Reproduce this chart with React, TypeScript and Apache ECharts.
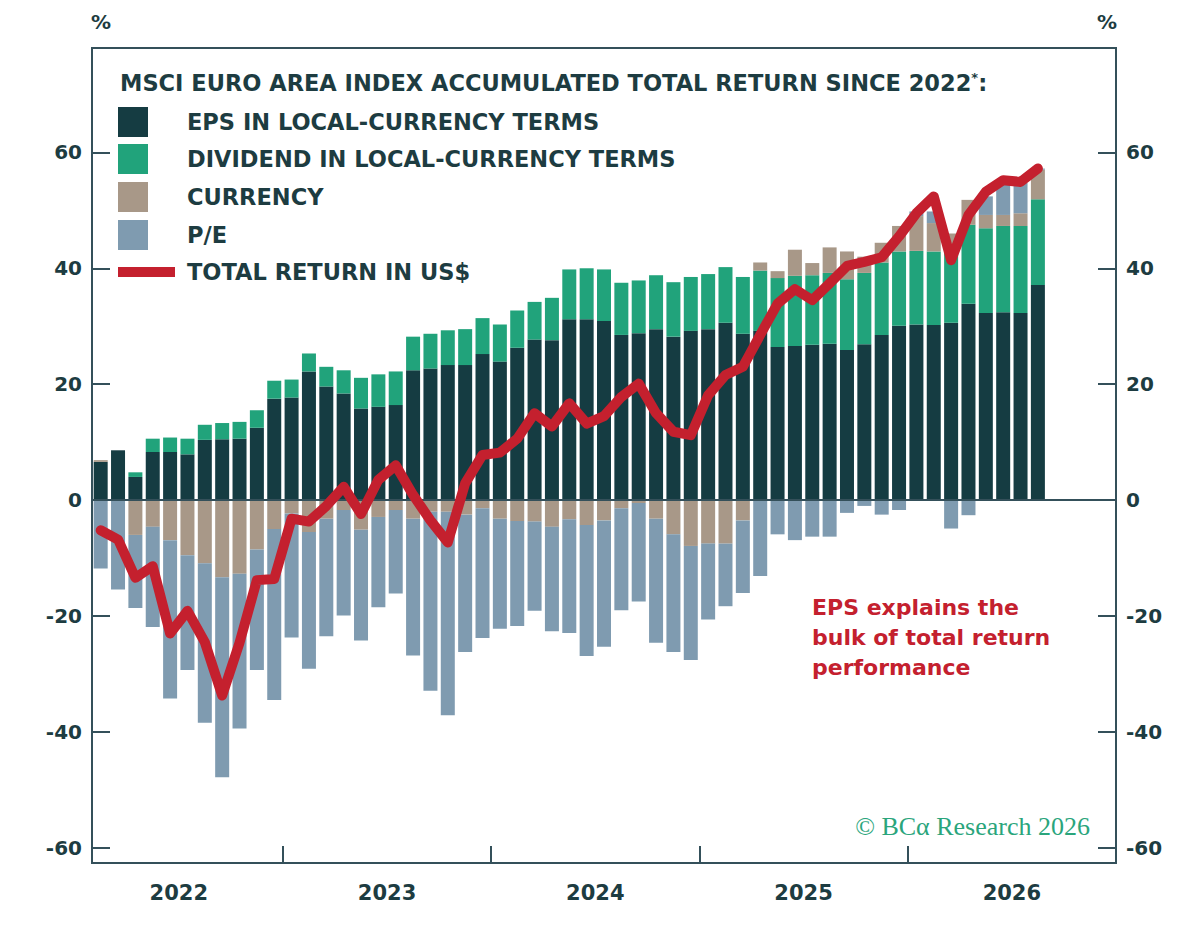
import React, { useEffect, useRef } from "react";
import * as echarts from "echarts";

// ---------- data ----------
const MONTH_NAMES = ["Jan", "Feb", "Mar", "Apr", "May", "Jun", "Jul", "Aug", "Sep", "Oct", "Nov", "Dec"];
const YEARS = [2022, 2023, 2024, 2025, 2026];
// monthly categories from Feb 2022 to Dec 2026
const CATEGORIES: string[] = [];
YEARS.forEach((y) => {
  MONTH_NAMES.forEach((m, i) => {
    if (y === 2022 && i === 0) return;
    CATEGORIES.push(`${m} ${y}`);
  });
});

const EPS = [
  6.6, 8.6, 4.0, 8.3, 8.3, 7.9, 10.4, 10.5, 10.6, 12.5, 17.5, 17.7, 22.2, 19.6, 18.4, 15.8, 16.1, 16.4, 22.4,
  22.7, 23.3, 23.3, 25.2, 23.9, 26.3, 27.7, 27.6, 31.2, 31.2, 30.9, 28.5, 28.8, 29.5, 28.2, 29.2, 29.5, 30.6, 28.7,
  29.2, 26.4, 26.6, 26.8, 27.0, 25.9, 26.9, 28.5, 30.1, 30.3, 30.2, 30.6, 33.9, 32.3, 32.4, 32.3, 37.1,
];
const DIVIDEND = [
  0, 0, 0.8, 2.3, 2.5, 2.7, 2.6, 2.8, 2.9, 3.0, 3.1, 3.1, 3.1, 3.4, 4.0, 5.3, 5.6, 5.8, 5.8,
  6.0, 6.0, 6.2, 6.2, 6.4, 6.4, 6.5, 7.3, 8.6, 8.8, 8.9, 9.0, 9.1, 9.3, 9.4, 9.3, 9.5, 9.6, 9.8,
  10.4, 11.9, 12.1, 12.0, 12.2, 12.2, 12.3, 12.5, 12.8, 12.7, 12.7, 12.4, 13.6, 14.6, 14.9, 15.0, 14.8,
];
const CURRENCY = [
  0.3, 0, -6.0, -4.6, -6.9, -9.5, -10.9, -13.3, -12.7, -8.5, -5.0, -2.3, -5.5, -3.2, -1.7, -5.1, -2.9, -1.7, -3.2,
  -2.0, -2.0, -2.5, -1.4, -3.2, -3.6, -3.7, -4.6, -3.3, -4.3, -3.5, -1.4, -0.5, -3.2, -5.9, -7.9, -7.5, -7.5, -3.5,
  1.4, 1.2, 4.5, 2.1, 4.4, 4.8, 2.8, 3.4, 4.4, 6.0, 4.9, 3.0, 4.3, 2.3, 1.9, 2.2, 5.1,
];
const PE = [
  -11.8, -15.4, -12.6, -17.3, -27.3, -19.8, -27.5, -34.5, -26.7, -20.8, -29.5, -21.4, -23.6, -20.3, -18.2, -19.1, -15.6, -14.4, -23.6,
  -30.9, -35.1, -23.7, -22.4, -19.0, -18.1, -15.4, -18.0, -19.6, -22.6, -21.8, -17.6, -17.0, -21.4, -20.3, -19.7, -13.1, -10.8, -12.5,
  -13.1, -5.9, -6.9, -6.3, -6.3, -2.2, -1.0, -2.5, -1.7, 0.8, 2.0, -4.9, -2.6, 3.2, 5.5, 5.2, 0.2,
];
const TOTAL_RETURN = [
  -5.2, -6.8, -13.4, -11.4, -23.0, -19.1, -24.5, -33.7, -24.6, -13.8, -13.6, -3.2, -3.7, -1.0, 2.3, -2.4, 3.5, 6.0, 0.9,
  -3.5, -7.3, 2.9, 7.8, 8.2, 10.6, 15.0, 12.7, 16.7, 13.2, 14.5, 17.8, 20.1, 15.0, 11.8, 11.2, 18.1, 21.6, 23.0,
  28.5, 33.9, 36.4, 34.5, 37.4, 40.4, 41.1, 41.9, 45.5, 49.5, 52.4, 41.4, 49.2, 53.2, 55.2, 54.9, 57.2,
];

const Y_TICKS = [-60, -40, -20, 0, 20, 40, 60];
const Y_MIN = -62.6;
const Y_MAX = 78;
const YEAR_TICKS = [2023, 2024, 2025, 2026];
const YEAR_AXIS_MIN = 2022 + 1 / 12;
const YEAR_AXIS_MAX = 2027;

const TITLE = "MSCI EURO AREA INDEX ACCUMULATED TOTAL RETURN SINCE 2022{s|*}:";
const LEGEND_NAMES = [
  "EPS IN LOCAL-CURRENCY TERMS",
  "DIVIDEND IN LOCAL-CURRENCY TERMS",
  "CURRENCY",
  "P/E",
  "TOTAL RETURN IN US$",
];
const NOTE = "EPS explains the\nbulk of total return\nperformance";
const CREDIT = "© BCα Research 2026";

// ---------- styles ----------
const C_EPS = "#153c42";
const C_DIV = "#21a37b";
const C_CUR = "#a89888";
const C_PE = "#7f9bb0";
const C_RED = "#c4202e";
const C_TEXT = "#1d3c41";
const C_FRAME = "#34505a";
const FONT = '"DejaVu Sans", "Open Sans", sans-serif';

function buildOption() {
  const axisLabelStyle = {
    color: C_TEXT,
    fontWeight: "bold" as const,
    fontFamily: FONT,
  };
  const yAxisBase = (position: "left" | "right") => ({
    type: "value" as const,
    position,
    min: Y_MIN,
    max: Y_MAX,
    axisLine: { show: false, onZero: false },
    splitLine: { show: false },
    axisTick: {
      show: true,
      inside: true,
      length: 18,
      lineStyle: { color: C_FRAME, width: 2 },
      customValues: Y_TICKS,
    },
    axisLabel: { ...axisLabelStyle, fontSize: 20, margin: 10, customValues: Y_TICKS },
  });
  const barSeries = (name: string, data: number[], color: string) => ({
    type: "bar" as const,
    name,
    data,
    stack: "total",
    barWidth: 14,
    itemStyle: { color },
    xAxisIndex: 0,
    yAxisIndex: 0,
  });

  const legendRows = [
    { name: LEGEND_NAMES[0], color: C_EPS, y: 122, line: false },
    { name: LEGEND_NAMES[1], color: C_DIV, y: 159, line: false },
    { name: LEGEND_NAMES[2], color: C_CUR, y: 197, line: false },
    { name: LEGEND_NAMES[3], color: C_PE, y: 235, line: false },
    { name: LEGEND_NAMES[4], color: C_RED, y: 272, line: true },
  ];
  const legendGraphics: any[] = [];
  legendRows.forEach((r) => {
    legendGraphics.push({
      type: "rect",
      shape: r.line
        ? { x: 118, y: r.y - 5, width: 57, height: 10 }
        : { x: 118, y: r.y - 15, width: 30, height: 30 },
      style: { fill: r.color },
    });
    legendGraphics.push({
      type: "text",
      x: 187,
      y: r.y,
      style: {
        text: r.name,
        fill: C_TEXT,
        fontSize: 22.5,
        fontWeight: "bold",
        fontFamily: FONT,
        textAlign: "left",
        textVerticalAlign: "middle",
      },
    });
  });

  return {
    animation: false,
    backgroundColor: "#ffffff",
    grid: {
      left: 92,
      right: 84,
      top: 48,
      bottom: 70,
      show: true,
      borderColor: C_FRAME,
      borderWidth: 2,
      backgroundColor: "transparent",
    },
    xAxis: [
      {
        type: "category",
        data: CATEGORIES,
        boundaryGap: true,
        axisLine: { show: false, onZero: false },
        axisTick: { show: false },
        axisLabel: { show: false },
        splitLine: { show: false },
      },
      {
        type: "value",
        position: "bottom",
        min: YEAR_AXIS_MIN,
        max: YEAR_AXIS_MAX,
        axisLine: { show: false, onZero: false },
        splitLine: { show: false },
        axisTick: {
          show: true,
          inside: true,
          length: 17,
          lineStyle: { color: C_FRAME, width: 2 },
          customValues: YEAR_TICKS,
        },
        axisLabel: {
          ...axisLabelStyle,
          fontSize: 21,
          margin: 19,
          customValues: YEARS.map((y) => y + 0.5),
          formatter: (v: number) => String(Math.floor(v)),
        },
      },
    ],
    yAxis: [yAxisBase("left"), yAxisBase("right")],
    series: [
      {
        ...barSeries(LEGEND_NAMES[0], EPS, C_EPS),
        markLine: {
          silent: true,
          symbol: "none",
          label: { show: false },
          lineStyle: { color: C_FRAME, width: 2, type: "solid" },
          data: [{ yAxis: 0 }],
        },
      },
      barSeries(LEGEND_NAMES[1], DIVIDEND, C_DIV),
      barSeries(LEGEND_NAMES[2], CURRENCY, C_CUR),
      barSeries(LEGEND_NAMES[3], PE, C_PE),
      {
        type: "line",
        name: LEGEND_NAMES[4],
        data: TOTAL_RETURN,
        xAxisIndex: 0,
        yAxisIndex: 0,
        symbol: "none",
        z: 5,
        lineStyle: { color: C_RED, width: 10, cap: "round", join: "round" },
      },
    ],
    graphic: [
      {
        type: "text",
        x: 101,
        y: 22,
        style: { text: "%", fill: C_TEXT, fontSize: 20, fontWeight: "bold", fontFamily: FONT, textAlign: "center", textVerticalAlign: "middle" },
      },
      {
        type: "text",
        x: 1107,
        y: 22,
        style: { text: "%", fill: C_TEXT, fontSize: 20, fontWeight: "bold", fontFamily: FONT, textAlign: "center", textVerticalAlign: "middle" },
      },
      {
        type: "text",
        x: 120,
        y: 83,
        style: {
          text: TITLE,
          fill: C_TEXT,
          fontSize: 22.5,
          fontWeight: "bold",
          fontFamily: FONT,
          textAlign: "left",
          textVerticalAlign: "middle",
          rich: {
            s: { fontSize: 13, fontWeight: "bold", fontFamily: FONT, fill: C_TEXT, padding: [0, 0, 12, 0] },
          },
        },
      },
      ...legendGraphics,
      {
        type: "text",
        x: 812,
        y: 592,
        style: {
          text: NOTE,
          fill: C_RED,
          fontSize: 22,
          fontWeight: "bold",
          fontFamily: FONT,
          lineHeight: 30,
          textAlign: "left",
          textVerticalAlign: "top",
        },
      },
      {
        type: "text",
        x: 1090,
        y: 826,
        style: {
          text: CREDIT,
          fill: "#2aa57c",
          fontSize: 26,
          fontFamily: '"Liberation Serif", "DejaVu Serif", serif',
          textAlign: "right",
          textVerticalAlign: "middle",
        },
      },
    ],
  };
}

export default function App() {
  const ref = useRef<HTMLDivElement>(null);
  useEffect(() => {
    document.body.style.margin = "0";
    if (!ref.current) return;
    const chart = echarts.init(ref.current, null, { renderer: "svg" });
    chart.setOption(buildOption() as any);
    return () => chart.dispose();
  }, []);
  return <div ref={ref} style={{ width: 1200, height: 933 }} />;
}
